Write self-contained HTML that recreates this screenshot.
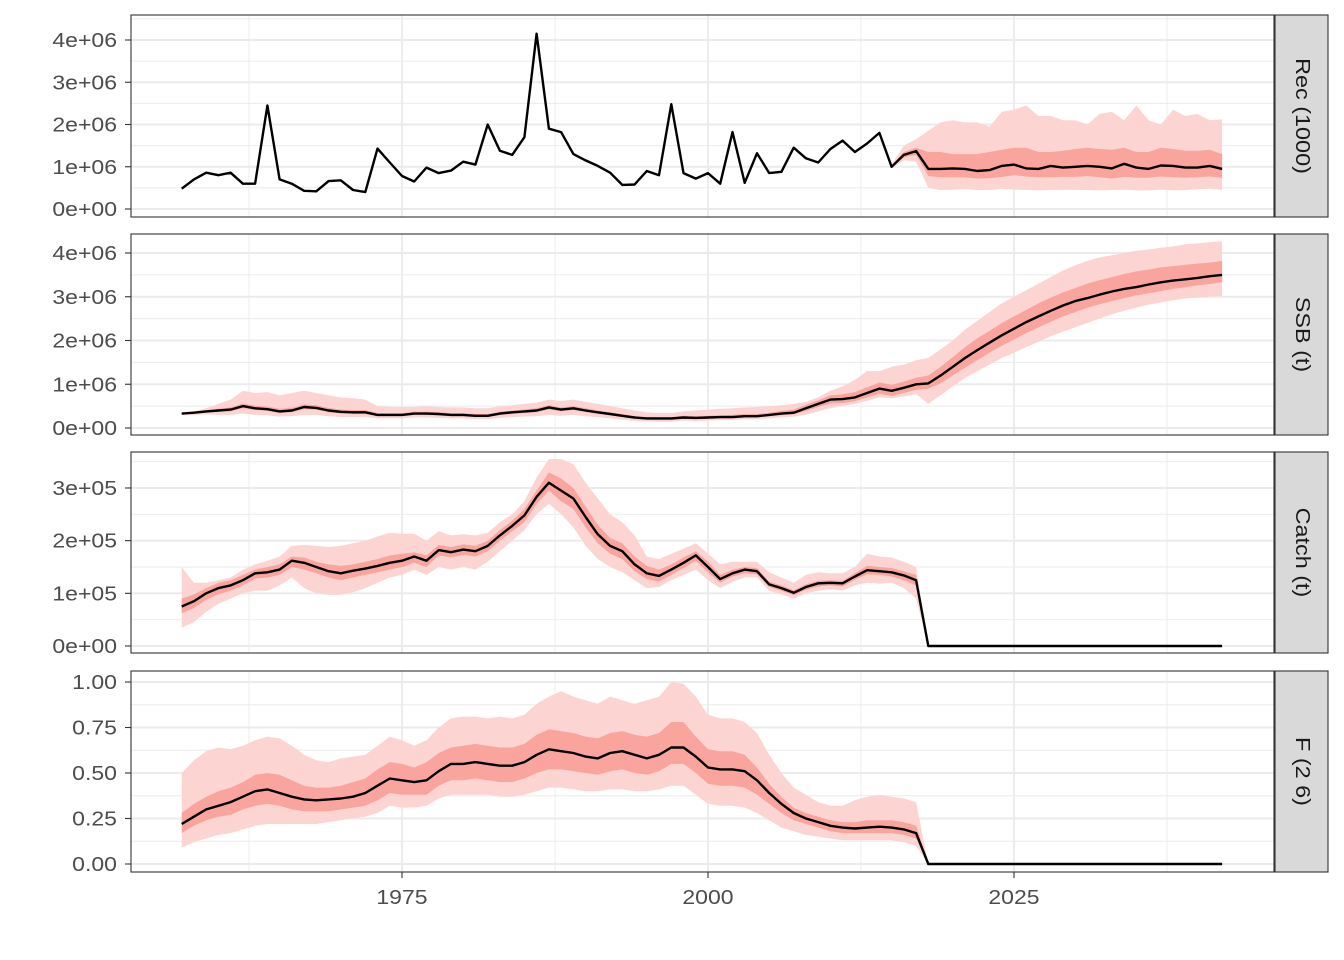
<!DOCTYPE html>
<html><head><meta charset="utf-8"><style>
html,body{margin:0;padding:0;background:#fff;}
svg{display:block;font-family:"Liberation Sans",sans-serif;}
</style></head><body>
<svg id="chart" width="1344" height="960" viewBox="0 0 1344 960"></svg>
<script>
const years0 = 1957;
const xTicks = [1975, 2000, 2025];
const xMinor = [1962.5, 1987.5, 2012.5, 2037.5];

const recMedian = [0.48,0.7,0.86,0.8,0.86,0.6,0.6,2.45,0.7,0.6,0.43,0.42,0.66,0.68,0.45,0.4,1.43,1.1,0.78,0.65,0.98,0.85,0.91,1.12,1.05,2.0,1.38,1.28,1.7,4.15,1.9,1.82,1.3,1.15,1.02,0.86,0.57,0.58,0.9,0.8,2.48,0.85,0.72,0.85,0.6,1.82,0.62,1.32,0.85,0.88,1.45,1.2,1.1,1.42,1.62,1.35,1.55,1.8,1.0,1.28,1.37,
0.95,0.95,0.96,0.95,0.9,0.92,1.02,1.05,0.96,0.95,1.02,0.98,1.0,1.02,1.0,0.96,1.07,0.98,0.95,1.03,1.02,0.98,0.98,1.02,0.95];
const recBandStart = 2015;
const recHi90 = [1.05,1.5,1.65,1.85,2.05,2.1,2.05,2.05,1.95,2.3,2.35,2.45,2.2,2.2,2.1,2.1,2.0,2.25,2.3,2.1,2.45,2.1,2.0,2.35,2.2,2.25,2.1,2.12];
const recHi50 = [1.02,1.35,1.45,1.35,1.35,1.3,1.3,1.3,1.35,1.4,1.45,1.45,1.35,1.35,1.38,1.42,1.45,1.42,1.4,1.45,1.35,1.35,1.45,1.42,1.38,1.38,1.4,1.3];
const recLo50 = [0.98,1.22,1.28,0.78,0.75,0.75,0.75,0.72,0.73,0.76,0.8,0.77,0.75,0.75,0.76,0.76,0.78,0.75,0.72,0.76,0.74,0.74,0.77,0.75,0.74,0.75,0.77,0.74];
const recLo90 = [0.96,1.15,1.12,0.5,0.45,0.46,0.47,0.45,0.45,0.48,0.46,0.45,0.44,0.45,0.46,0.45,0.45,0.44,0.45,0.46,0.44,0.44,0.46,0.44,0.45,0.47,0.48,0.45];

const ssbMedian = [.33,.35,.38,.4,.42,.5,.45,.43,.38,.4,.48,.46,.4,.37,.36,.36,.3,.3,.3,.33,.33,.32,.3,.3,.28,.28,.33,.36,.38,.4,.47,.42,.45,.4,.36,.32,.28,.24,.22,.22,.22,.24,.23,.24,.25,.25,.27,.27,.3,.33,.35,.45,.55,.65,.66,.7,.8,.9,.85,.92,1.0,1.02,1.2,1.4,1.6,1.78,1.95,2.12,2.27,2.42,2.55,2.68,2.8,2.9,2.97,3.05,3.12,3.18,3.22,3.28,3.33,3.37,3.4,3.43,3.47,3.5];
const ssbBandStart = 1957;
const ssbHi90 = [.35,.38,.45,.55,.65,.85,.8,.82,.75,.8,.85,.8,.75,.7,.68,.65,.5,.48,.48,.48,.5,.48,.47,.47,.45,.45,.5,.52,.55,.58,.65,.62,.65,.6,.55,.5,.45,.4,.36,.34,.34,.38,.4,.42,.44,.45,.47,.48,.5,.52,.55,.6,.7,.85,.95,1.1,1.3,1.3,1.4,1.45,1.55,1.6,1.8,2.0,2.25,2.45,2.65,2.85,3.0,3.15,3.3,3.45,3.6,3.72,3.82,3.9,3.95,4.0,4.05,4.08,4.12,4.15,4.2,4.22,4.25,4.27];
const ssbHi50 = [.35,.37,.41,.44,.47,.56,.51,.49,.44,.46,.54,.52,.46,.42,.41,.41,.34,.34,.34,.37,.37,.36,.34,.34,.32,.32,.37,.4,.42,.45,.52,.47,.5,.45,.4,.36,.32,.27,.25,.25,.25,.28,.27,.28,.29,.3,.32,.32,.35,.39,.42,.53,.63,.75,.77,.82,.93,1.04,.99,1.06,1.15,1.2,1.4,1.62,1.85,2.05,2.22,2.4,2.55,2.7,2.85,2.98,3.1,3.2,3.3,3.38,3.45,3.52,3.58,3.62,3.67,3.7,3.73,3.76,3.78,3.82];
const ssbLo50 = [.31,.33,.35,.37,.38,.45,.41,.39,.34,.36,.43,.42,.36,.33,.32,.32,.27,.27,.27,.3,.3,.29,.27,.27,.25,.25,.3,.32,.34,.36,.42,.38,.41,.36,.32,.29,.25,.21,.19,.18,.18,.21,.2,.21,.22,.22,.24,.24,.27,.29,.31,.39,.48,.56,.57,.61,.7,.78,.73,.8,.87,.9,1.02,1.2,1.38,1.55,1.72,1.88,2.02,2.17,2.3,2.43,2.55,2.65,2.75,2.83,2.9,2.97,3.03,3.08,3.13,3.18,3.22,3.26,3.29,3.33];
const ssbLo90 = [.3,.3,.31,.3,.3,.33,.3,.29,.26,.27,.3,.3,.27,.25,.25,.25,.22,.22,.22,.24,.24,.23,.22,.22,.2,.2,.23,.25,.26,.27,.3,.28,.3,.27,.25,.22,.19,.16,.15,.14,.14,.17,.16,.17,.18,.18,.2,.2,.22,.24,.26,.3,.38,.45,.5,.55,.62,.7,.68,.72,.78,.55,.75,.95,1.15,1.3,1.45,1.6,1.72,1.85,1.97,2.1,2.2,2.3,2.4,2.5,2.6,2.68,2.75,2.82,2.87,2.92,2.96,2.98,3.0,3.02];

const catchMedian = [.75,.85,1.0,1.1,1.15,1.25,1.38,1.4,1.45,1.62,1.58,1.5,1.42,1.38,1.43,1.47,1.52,1.58,1.62,1.7,1.62,1.82,1.78,1.83,1.8,1.9,2.1,2.28,2.48,2.83,3.1,2.95,2.8,2.45,2.12,1.9,1.8,1.55,1.38,1.33,1.45,1.58,1.72,1.5,1.27,1.38,1.45,1.42,1.17,1.1,1.01,1.12,1.19,1.2,1.19,1.32,1.44,1.42,1.4,1.34,1.25,
0,0,0,0,0,0,0,0,0,0,0,0,0,0,0,0,0,0,0,0,0,0,0,0,0];
const catchBandStart = 1957;
const catchHi90 = [1.5,1.2,1.2,1.25,1.3,1.45,1.55,1.62,1.7,1.9,1.92,1.9,1.88,1.9,1.95,2.0,2.08,2.15,2.13,2.13,2.0,2.18,2.1,2.12,2.1,2.15,2.35,2.5,2.75,3.2,3.55,3.55,3.45,3.1,2.8,2.5,2.35,2.1,1.7,1.65,1.75,1.85,1.95,1.75,1.55,1.6,1.6,1.6,1.4,1.3,1.2,1.35,1.4,1.38,1.38,1.5,1.75,1.7,1.68,1.6,1.5,0];
const catchHi50 = [.9,.98,1.1,1.2,1.25,1.35,1.45,1.5,1.55,1.7,1.68,1.6,1.55,1.52,1.55,1.6,1.65,1.72,1.75,1.78,1.72,1.92,1.88,1.93,1.9,2.0,2.2,2.38,2.6,2.95,3.3,3.18,3.0,2.65,2.3,2.05,1.95,1.7,1.52,1.45,1.55,1.68,1.8,1.6,1.35,1.45,1.5,1.48,1.22,1.15,1.06,1.17,1.24,1.25,1.24,1.38,1.52,1.5,1.48,1.42,1.35,0];
const catchLo50 = [.62,.72,.88,.98,1.05,1.15,1.28,1.3,1.35,1.5,1.45,1.38,1.3,1.25,1.3,1.35,1.4,1.45,1.5,1.58,1.5,1.72,1.68,1.73,1.7,1.8,2.0,2.18,2.35,2.7,2.95,2.75,2.6,2.25,1.95,1.75,1.65,1.42,1.27,1.22,1.35,1.48,1.62,1.4,1.2,1.32,1.38,1.36,1.12,1.05,.96,1.07,1.13,1.15,1.13,1.26,1.36,1.35,1.32,1.25,1.15,0];
const catchLo90 = [.35,.45,.65,.8,.9,1.0,1.05,1.05,1.15,1.3,1.1,1.0,.97,.97,1.02,1.1,1.2,1.3,1.35,1.45,1.35,1.5,1.45,1.5,1.45,1.6,1.8,2.0,2.2,2.5,2.7,2.5,2.25,1.9,1.65,1.5,1.4,1.25,1.1,1.12,1.25,1.35,1.45,1.25,1.1,1.22,1.3,1.3,1.05,.98,.9,1.0,1.05,1.08,1.05,1.15,1.2,1.18,1.2,1.1,.9,0];

const fMedian = [.22,.26,.3,.32,.34,.37,.4,.41,.39,.37,.355,.35,.355,.36,.37,.39,.43,.47,.46,.45,.46,.51,.55,.55,.56,.55,.54,.54,.56,.6,.63,.62,.61,.59,.58,.61,.62,.6,.58,.6,.64,.64,.59,.53,.52,.52,.51,.46,.39,.33,.28,.25,.23,.21,.2,.195,.2,.205,.2,.19,.17,
0,0,0,0,0,0,0,0,0,0,0,0,0,0,0,0,0,0,0,0,0,0,0,0,0];
const fBandStart = 1957;
const fHi90 = [.5,.57,.62,.64,.63,.65,.68,.7,.69,.65,.6,.57,.56,.58,.59,.6,.65,.7,.68,.65,.68,.75,.8,.81,.81,.8,.81,.8,.82,.88,.92,.95,.92,.9,.88,.92,.9,.88,.9,.92,1.0,.99,.92,.82,.8,.8,.78,.72,.6,.5,.42,.38,.34,.32,.32,.35,.37,.38,.37,.36,.34,0];
const fHi50 = [.28,.33,.37,.4,.42,.45,.49,.5,.49,.46,.43,.42,.42,.43,.45,.47,.52,.56,.55,.53,.56,.61,.64,.65,.66,.65,.64,.64,.66,.71,.74,.73,.72,.7,.69,.72,.73,.71,.7,.72,.78,.78,.7,.63,.62,.62,.6,.53,.44,.37,.31,.28,.26,.24,.23,.23,.24,.24,.24,.23,.21,0];
const fLo50 = [.17,.21,.24,.26,.27,.3,.32,.33,.32,.3,.29,.29,.29,.3,.31,.32,.35,.39,.38,.38,.38,.43,.46,.46,.47,.46,.45,.45,.47,.5,.52,.52,.51,.5,.49,.51,.52,.5,.49,.51,.55,.55,.5,.44,.43,.43,.42,.38,.33,.28,.24,.22,.2,.18,.17,.17,.17,.17,.17,.16,.14,0];
const fLo90 = [.09,.12,.14,.16,.17,.19,.21,.22,.22,.22,.22,.22,.23,.24,.25,.26,.28,.32,.31,.31,.32,.36,.38,.38,.38,.38,.37,.37,.38,.4,.42,.42,.41,.4,.4,.41,.41,.4,.4,.41,.43,.43,.38,.33,.32,.32,.31,.28,.24,.2,.18,.16,.15,.14,.13,.13,.13,.13,.13,.12,.1,0];

const recTickVals = [0,1,2,3,4];
const recTickLabels = ["0e+00","1e+06","2e+06","3e+06","4e+06"];
const ssbTickVals = [0,1,2,3,4];
const ssbTickLabels = ["0e+00","1e+06","2e+06","3e+06","4e+06"];
const catchTickVals = [0,1,2,3];
const catchTickLabels = ["0e+00","1e+05","2e+05","3e+05"];
const fTickVals = [0,0.25,0.5,0.75,1.0];
const fTickLabels = ["0.00","0.25","0.50","0.75","1.00"];

const NS = "http://www.w3.org/2000/svg";
const svg = document.getElementById("chart");
const PX0 = 131, PX1 = 1274;
const WIDEN = 1.15;
function xScale(yr){ return 402 + (yr - 1975) * 12.24; }
function mk(tag, attrs, parent){
  const e = document.createElementNS(NS, tag);
  for (const k in attrs) e.setAttribute(k, attrs[k]);
  (parent || svg).appendChild(e);
  return e;
}
function widen(t, k){
  const w = t.getComputedTextLength();
  if (w > 0) { t.setAttribute('textLength', (w * k).toFixed(1)); t.setAttribute('lengthAdjust', 'spacingAndGlyphs'); }
}

const panels = [
  {key:"rec", title:"Rec (1000)", top:15, bot:217, zeroY:209, unitPx:42.25, med:recMedian, bs:recBandStart, hi90:recHi90, hi50:recHi50, lo50:recLo50, lo90:recLo90, tv:recTickVals, tl:recTickLabels, minorStep:0.5},
  {key:"ssb", title:"SSB (t)", top:234, bot:435, zeroY:428, unitPx:43.75, med:ssbMedian, bs:ssbBandStart, hi90:ssbHi90, hi50:ssbHi50, lo50:ssbLo50, lo90:ssbLo90, tv:ssbTickVals, tl:ssbTickLabels, minorStep:0.5},
  {key:"catch", title:"Catch (t)", top:452, bot:653, zeroY:646, unitPx:52.67, med:catchMedian, bs:catchBandStart, hi90:catchHi90, hi50:catchHi50, lo50:catchLo50, lo90:catchLo90, tv:catchTickVals, tl:catchTickLabels, minorStep:0.5},
  {key:"f", title:"F (2  6)", top:671, bot:872, zeroY:864, unitPx:182, med:fMedian, bs:fBandStart, hi90:fHi90, hi50:fHi50, lo50:fLo50, lo90:fLo90, tv:fTickVals, tl:fTickLabels, minorStep:0.125}
];

panels.forEach(p => {
  const yS = v => p.zeroY - v * p.unitPx;
  const g = mk("g", {});
  
  
  mk("rect", {x:PX0, y:p.top, width:PX1-PX0, height:p.bot-p.top, fill:"#fff"}, g);
  const maxV = (p.top - p.zeroY) / -p.unitPx;
  const minV = (p.bot - p.zeroY) / -p.unitPx;
  for (let i = 0; i < p.tv.length + 1; i++) {
    const v = (p.tv[0] - p.minorStep) + i * 2 * p.minorStep;
    if (v < minV || v > maxV) continue;
    mk("line", {x1:PX0, x2:PX1, y1:yS(v), y2:yS(v), stroke:"#ebebeb", "stroke-width":0.9}, g);
  }
  xMinor.forEach(yr => mk("line", {x1:xScale(yr), x2:xScale(yr), y1:p.top, y2:p.bot, stroke:"#ebebeb", "stroke-width":0.9}, g));
  p.tv.forEach(v => mk("line", {x1:PX0, x2:PX1, y1:yS(v), y2:yS(v), stroke:"#ebebeb", "stroke-width":1.9}, g));
  xTicks.forEach(yr => mk("line", {x1:xScale(yr), x2:xScale(yr), y1:p.top, y2:p.bot, stroke:"#ebebeb", "stroke-width":1.9}, g));
  function band(hi, lo, color, name){
    const pts = [];
    for (let i = 0; i < hi.length; i++) pts.push(xScale(p.bs + i).toFixed(1) + "," + yS(hi[i]).toFixed(1));
    for (let i = lo.length - 1; i >= 0; i--) pts.push(xScale(p.bs + i).toFixed(1) + "," + yS(lo[i]).toFixed(1));
    const e = mk("polygon", {points:pts.join(" "), fill:color}, g);
    
    
  }
  band(p.hi90, p.lo90, "#fcd5d3", "band-90");
  band(p.hi50, p.lo50, "#f9a59e", "band-50");
  const lp = p.med.map((v, i) => xScale(years0 + i).toFixed(1) + "," + yS(v).toFixed(1)).join(" ");
  const line = mk("polyline", {points:lp, fill:"none", stroke:"#000", "stroke-width":2.4, "stroke-linejoin":"round"}, g);
  
  
  mk("rect", {x:PX0, y:p.top, width:PX1-PX0, height:p.bot-p.top, fill:"none", stroke:"#333", "stroke-width":1.1}, g);
  p.tv.forEach((v, i) => {
    mk("line", {x1:125, x2:PX0, y1:yS(v), y2:yS(v), stroke:"#333", "stroke-width":1.1}, g);
    const t = mk("text", {x:117, y:yS(v) + 7, "text-anchor":"end", "font-size":20, fill:"#4d4d4d"}, g);
    t.textContent = p.tl[i];
    
    
    widen(t, WIDEN);
  });
  const s = mk("rect", {x:1275, y:p.top, width:53, height:p.bot-p.top, fill:"#d9d9d9", stroke:"#333", "stroke-width":1.1}, g);
  
  
  const cy = (p.top + p.bot) / 2, cx = 1302;
  const st = mk("text", {x:cx, y:cy, "text-anchor":"middle", "dominant-baseline":"central", "font-size":20, fill:"#1a1a1a", transform:"rotate(90 " + cx + " " + cy + ")", "xml:space":"preserve"}, g);
  st.textContent = p.title;
  
  
  widen(st, 1.17);
});
xTicks.forEach(yr => {
  mk("line", {x1:xScale(yr), x2:xScale(yr), y1:872, y2:878, stroke:"#333", "stroke-width":1.1});
  const t = mk("text", {x:xScale(yr), y:904, "text-anchor":"middle", "font-size":20, fill:"#4d4d4d"});
  t.textContent = yr;
  
  
  widen(t, WIDEN);
});
</script>
</body></html>
